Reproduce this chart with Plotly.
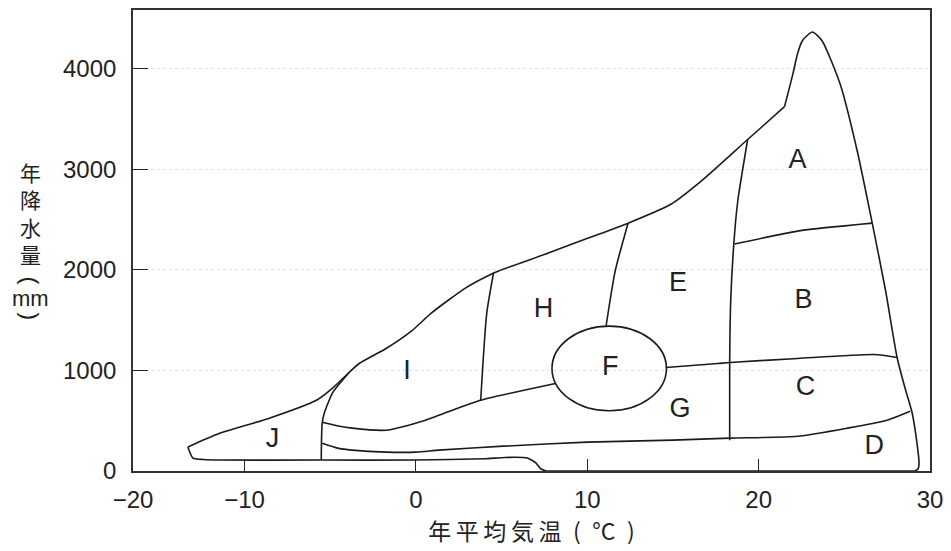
import plotly.graph_objects as go

# --- biome boundaries: annual mean temperature (°C) vs annual precipitation (mm) ---

# outer envelope, upper edge (from tundra tip to rain-forest shoulder)
upper_t = [-13.31, -12.5, -11.45, -8.55, -5.81, -4.88, -3.90, -3.31, -1.74, -0.23, 0.93, 2.91, 4.42,
           4.83, 7.73, 10.06, 12.38, 14.88, 16.63, 19.36, 21.51]
upper_p = [238, 300, 376, 525, 703, 822, 980, 1069, 1218, 1396, 1575, 1822, 1960,
           1990, 2168, 2317, 2465, 2653, 2881, 3297, 3623]

# outer envelope, rain-forest peak and hot/dry edge
peak_t = [21.51, 22.0, 22.27, 22.55, 23.14, 23.70, 24.77, 25.76, 26.63, 27.40, 28.08, 28.55, 28.95, 29.24, 29.36, 29.30, 29.10]
peak_p = [3623, 3950, 4150, 4280, 4366, 4280, 3841, 3178, 2465, 1800, 1129, 820, 584, 277, 80, 20, 0]

# outer envelope, lower edge (dry side along the axis and under the tundra)
lower_t = [29.10, 7.60, 7.30, 7.00, 6.50, 5.20, 4.00, 0.0, -5.52, -11.50, -12.40, -13.02, -13.31]
lower_p = [0, 0, 20, 80, 130, 135, 122, 109, 109, 109, 115, 129, 238]

# tundra / boreal forest divide
ji_t = [-3.90, -4.40, -4.88, -5.35, -5.47, -5.52, -5.52]
ji_p = [980, 880, 773, 574, 475, 200, 109]

# forest lower limit (left of F)
forest_left_t = [-5.47, -4.60, -3.72, -1.74, 0.17, 1.34, 3.78, 8.14]
forest_left_p = [485, 450, 426, 406, 485, 554, 703, 871]

# forest lower limit (right of F)
forest_right_t = [14.59, 17.62, 18.31, 22.27, 26.74, 28.08]
forest_right_p = [1030, 1069, 1079, 1119, 1158, 1129]

# grassland / desert divide
desert_t = [-5.47, -4.50, -3.72, -1.74, 0.0, 1.34, 5.10, 10.0, 15.0, 18.31, 22.27, 25.17, 27.50, 28.84]
desert_p = [277, 225, 208, 188, 188, 208, 247, 287, 307, 327, 346, 426, 505, 594]

# tropical / temperate divide
trop_t = [19.36, 18.78, 18.55, 18.37, 18.31, 18.31]
trop_p = [3297, 2683, 2257, 1693, 1079, 307]

# rain forest / seasonal forest divide
ab_t = [18.60, 22.27, 26.63]
ab_p = [2257, 2386, 2465]

# boreal / temperate forest divide
hi_t = [4.53, 4.13, 3.78]
hi_p = [1970, 1564, 703]

# temperate deciduous / evergreen divide
eh_t = [12.38, 11.63, 11.10]
eh_p = [2465, 1990, 1445]

# sclerophyll woodland (F) ellipse: centre and semi-axes
f_center = (11.28, 1020)
f_axes = (3.34, 421)

# region letters
labels = ["A", "B", "C", "D", "E", "F", "G", "H", "I", "J"]
label_t = [22.27, 22.62, 22.73, 26.74, 15.29, 11.34, 15.41, 7.44, -0.52, -8.37]
label_p = [3079, 1693, 822, 238, 1861, 1020, 604, 1594, 980, 307]

# axis ticks
x_tickvals = [-16.51, -10, 0, 10, 20, 30]
x_ticktext = ["−20", "−10", "0", "10", "20", "30"]
y_tickvals = [0, 1000, 2000, 3000, 4000]
y_ticktext = ["0", "1000", "2000", "3000", "4000"]

LINE = dict(color="#1b1b1b", width=1.6)
fig = go.Figure()


def add_line(t, p, shape="spline", smoothing=0.6):
    fig.add_trace(go.Scatter(x=t, y=p, mode="lines", line=dict(**LINE, shape=shape, smoothing=smoothing),
                             hoverinfo="skip", showlegend=False))


add_line(upper_t, upper_p)
add_line(peak_t, peak_p)
add_line(lower_t[:2], lower_p[:2], shape="linear")
add_line(lower_t[1:], lower_p[1:], smoothing=0.5)
add_line(ji_t, ji_p)
add_line(forest_left_t, forest_left_p)
add_line(forest_right_t, forest_right_p)
add_line(desert_t, desert_p)
add_line(trop_t, trop_p)
add_line(ab_t, ab_p)
add_line(hi_t, hi_p)
add_line(eh_t, eh_p)

fig.add_shape(type="circle", xref="x", yref="y",
              x0=f_center[0] - f_axes[0], x1=f_center[0] + f_axes[0],
              y0=f_center[1] - f_axes[1], y1=f_center[1] + f_axes[1],
              line=dict(color="#1b1b1b", width=1.6), fillcolor="rgba(0,0,0,0)")

fig.add_trace(go.Scatter(x=label_t, y=label_p, mode="text", text=labels,
                         textfont=dict(family="Liberation Sans, Arial", size=27, color="#222"),
                         hoverinfo="skip", showlegend=False))

# vertical (tategaki) y-axis title; the brackets are turned a quarter turn
CJK = "Noto Sans CJK JP"
LATIN = "Liberation Sans, Arial"
ytitle = [  # (text, pixel row, font, size, rotation)
    ("年<br>降<br>水<br>量", 212, CJK, 21, 0),
    ("(", 280, LATIN, 24, 90),
    ("mm", 298, LATIN, 22, 0),
    (")", 316, LATIN, 24, 90),
]
plot_top, plot_bottom = 8, 471
for ch, py, fam, size, rot in ytitle:
    fig.add_annotation(text=ch, xref="paper", yref="paper",
                       x=(30 - 133) / 800, y=(plot_bottom - py) / (plot_bottom - plot_top),
                       xanchor="center", yanchor="middle", showarrow=False, textangle=rot,
                       font=dict(family=fam, size=size, color="#222"))

fig.update_layout(
    width=951, height=551,
    margin=dict(l=133, r=18, t=8, b=80),
    paper_bgcolor="white", plot_bgcolor="white",
    xaxis=dict(range=[-16.51, 30], tickvals=x_tickvals, ticktext=x_ticktext,
               ticks="inside", ticklen=12, tickwidth=1.3, tickcolor="#222",
               showline=True, linecolor="#333", linewidth=1.6, mirror=True,
               showgrid=False, zeroline=False, ticklabelstandoff=6,
               tickfont=dict(family=LATIN, size=24, color="#222"),
               title=dict(text="年\u2009平\u2009均\u2009気\u2009温\u2002(\u2002°C\u2002)", standoff=8,
                          font=dict(family=CJK, size=23, color="#222"))),
    yaxis=dict(range=[0, 4585], tickvals=y_tickvals, ticktext=y_ticktext,
               ticks="inside", ticklen=15, tickwidth=1.3, tickcolor="#222",
               showline=True, linecolor="#333", linewidth=1.6, mirror=True,
               showgrid=True, gridcolor="#e4e4e4", griddash="dot", gridwidth=1,
               zeroline=False, ticklabelstandoff=10,
               tickfont=dict(family=LATIN, size=24, color="#222")),
)

fig.write_html("out.html")
